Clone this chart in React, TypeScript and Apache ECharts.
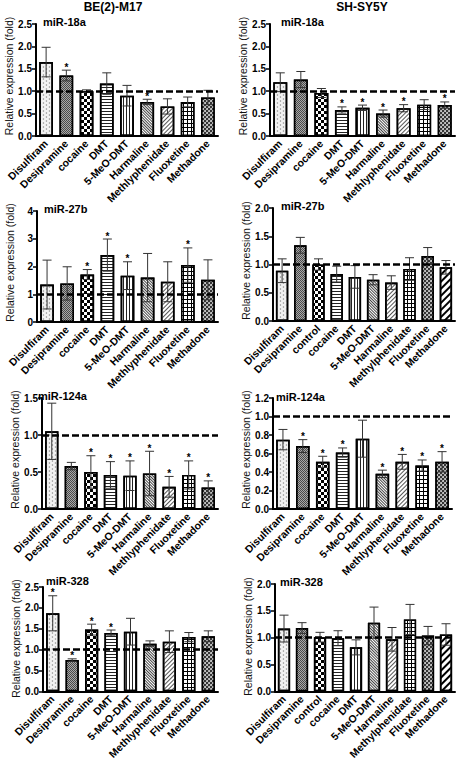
import React, { useEffect, useRef } from "react";
import * as echarts from "echarts";

// ---------- data ----------
const columnTitles = ["BE(2)-M17", "SH-SY5Y"];
const yAxisTitle = "Relative expression (fold)";
const panelTitles = ["miR-18a", "miR-18a", "miR-27b", "miR-27b", "miR-124a", "miR-124a", "miR-328", "miR-328"];

const drugsA = ["Disulfiram", "Desipramine", "cocaine", "DMT", "5-MeO-DMT", "Harmaline", "Methlyphenidate", "Fluoxetine", "Methadone"];
const drugsB = ["Disulfiram", "Desipramine", "control", "cocaine", "DMT", "5-MeO-DMT", "Harmaline", "Methylphenidate", "Fluoxetine", "Methadone"];

const be18aMean = [1.65, 1.35, 1.0, 1.17, 0.9, 0.76, 0.66, 0.76, 0.86];
const be18aErr = [0.33, 0.12, 0.03, 0.24, 0.23, 0.06, 0.17, 0.11, 0.16];
const be18aSig = [0, 1, 0, 0, 0, 1, 0, 0, 0];

const sh18aMean = [1.2, 1.26, 0.96, 0.58, 0.63, 0.5, 0.62, 0.7, 0.69];
const sh18aErr = [0.21, 0.18, 0.1, 0.07, 0.06, 0.08, 0.08, 0.11, 0.07];
const sh18aSig = [0, 0, 0, 1, 1, 1, 1, 0, 1];

const be27bMean = [1.35, 1.39, 1.71, 2.41, 1.67, 1.6, 1.45, 2.05, 1.52];
const be27bErr = [0.88, 0.6, 0.18, 0.58, 0.5, 0.87, 0.72, 0.62, 0.72];
const be27bSig = [0, 0, 1, 1, 1, 0, 0, 1, 0];

const sh27bMean = [0.89, 1.34, 1.0, 0.83, 0.78, 0.73, 0.68, 0.92, 1.15, 0.95];
const sh27bErr = [0.21, 0.14, 0.1, 0.14, 0.2, 0.09, 0.12, 0.2, 0.15, 0.12];
const sh27bSig = [0, 0, 0, 0, 0, 0, 0, 0, 0, 0];

const be124aMean = [1.05, 0.58, 0.5, 0.46, 0.45, 0.48, 0.3, 0.46, 0.29];
const be124aErr = [0.38, 0.05, 0.22, 0.18, 0.2, 0.3, 0.14, 0.19, 0.09];
const be124aSig = [0, 0, 1, 1, 1, 1, 1, 1, 1];

const sh124aMean = [0.75, 0.68, 0.51, 0.61, 0.76, 0.38, 0.51, 0.47, 0.51];
const sh124aErr = [0.11, 0.07, 0.06, 0.05, 0.2, 0.04, 0.08, 0.06, 0.11];
const sh124aSig = [0, 1, 1, 1, 0, 1, 1, 1, 1];

const be328Mean = [1.87, 0.75, 1.48, 1.4, 1.43, 1.14, 1.19, 1.3, 1.32];
const be328Err = [0.42, 0.03, 0.13, 0.07, 0.32, 0.07, 0.26, 0.11, 0.13];
const be328Sig = [1, 1, 1, 1, 0, 0, 0, 0, 0];

const sh328Mean = [1.17, 1.18, 1.01, 0.99, 0.82, 1.28, 0.97, 1.34, 1.04, 1.06];
const sh328Err = [0.25, 0.1, 0.09, 0.14, 0.14, 0.29, 0.22, 0.28, 0.17, 0.2];
const sh328Sig = [0, 0, 0, 0, 0, 0, 0, 0, 0, 0];

const yMax = [2.5, 2.5, 4, 2, 1.5, 1.2, 2.5, 2];
const yStep = [0.5, 0.5, 1, 0.5, 0.5, 0.2, 0.5, 0.5];
const yDecimals = [1, 1, 0, 1, 1, 1, 1, 1];
const refLevel = 1;

const panels = [
  { cats: drugsA, mean: be18aMean, err: be18aErr, sig: be18aSig },
  { cats: drugsA, mean: sh18aMean, err: sh18aErr, sig: sh18aSig },
  { cats: drugsA, mean: be27bMean, err: be27bErr, sig: be27bSig },
  { cats: drugsB, mean: sh27bMean, err: sh27bErr, sig: sh27bSig },
  { cats: drugsA, mean: be124aMean, err: be124aErr, sig: be124aSig },
  { cats: drugsA, mean: sh124aMean, err: sh124aErr, sig: sh124aSig },
  { cats: drugsA, mean: be328Mean, err: be328Err, sig: be328Sig },
  { cats: drugsB, mean: sh328Mean, err: sh328Err, sig: sh328Sig },
];

// ---------- layout / style ----------
const layouts = [
  { l: 36, t: 24, r: 218, b: 136, tx: 43, ty: 21.5 },
  { l: 270, t: 24, r: 455, b: 136, tx: 281, ty: 21.5 },
  { l: 37, t: 211, r: 218, b: 322, tx: 44, ty: 208.5 },
  { l: 273, t: 208, r: 455, b: 321, tx: 281, ty: 206 },
  { l: 42, t: 398, r: 218, b: 509, tx: 38, ty: 396 },
  { l: 273, t: 398, r: 452, b: 509, tx: 276, ty: 397 },
  { l: 43, t: 587, r: 218, b: 698, tx: 46, ty: 580.5 },
  { l: 275, t: 584, r: 455, b: 697, tx: 280, ty: 581.5 },
];
const FONT = "Liberation Sans, Arial, Helvetica, sans-serif";

const patterns: any[] = [
  { bg: "#f2f2f2", decal: { symbol: "circle", symbolSize: 0.7, color: "#8a8a8a", dashArrayX: [[3, 3], [0, 3, 3, 0]], dashArrayY: [2, 0] } },
  { bg: "#4a4a4a", decal: { symbol: "rect", symbolSize: 1, color: "#a8a8a8", dashArrayX: [[1, 1], [0, 1, 1, 0]], dashArrayY: [1, 0] } },
  { bg: "#ffffff", decal: { symbol: "rect", symbolSize: 1, color: "#000", dashArrayX: [[3, 3], [0, 3, 3, 0]], dashArrayY: [3, 0] } },
  { bg: "#ffffff", decal: { symbol: "rect", symbolSize: 1, color: "#222", dashArrayX: [1, 0], dashArrayY: [1, 2] } },
  { bg: "#ffffff", decal: { symbol: "rect", symbolSize: 1, color: "#222", dashArrayX: [1, 2], dashArrayY: [1, 0] } },
  { bg: "#ffffff", decal: { symbol: "rect", symbolSize: 1, color: "#444", dashArrayX: [1, 0], dashArrayY: [1, 1], rotation: Math.PI / 4 } },
  { bg: "#ffffff", decal: { symbol: "rect", symbolSize: 1, color: "#555", dashArrayX: [1, 0], dashArrayY: [1, 1.5], rotation: -Math.PI / 4 } },
  { bg: "#000000", decal: { symbol: "rect", symbolSize: 1, color: "#fff", dashArrayX: [3, 1], dashArrayY: [3, 1] } },
  { bg: "#333333", decal: { symbol: "circle", symbolSize: 0.9, color: "#e8e8e8", dashArrayX: [[2, 2], [0, 2, 2, 0]], dashArrayY: [2, 0] } },
  { bg: "#ffffff", decal: { symbol: "rect", symbolSize: 1, color: "#000", dashArrayX: [1, 0], dashArrayY: [2, 2.5], rotation: -Math.PI / 4 } },
];

export default function App() {
  const ref = useRef<HTMLDivElement>(null);
  useEffect(() => {
    document.body.style.margin = "0";
    if (!ref.current) return;
    const chart = echarts.init(ref.current, undefined, { renderer: "svg" });

    const grid: any[] = [];
    const xAxis: any[] = [];
    const yAxis: any[] = [];
    const series: any[] = [];
    const graphic: any[] = [];

    columnTitles.forEach((t, c) => {
      graphic.push({
        type: "text",
        x: c === 0 ? 113 : 362,
        y: 6.5,
        style: { text: t, font: `bold 12px ${FONT}`, fill: "#000", align: "center", verticalAlign: "middle" },
      });
    });

    panels.forEach((p, i) => {
      const L = layouts[i];
      grid.push({ left: L.l, top: L.t, width: L.r - L.l, height: L.b - L.t, containLabel: false });
      xAxis.push({
        type: "category",
        gridIndex: i,
        data: p.cats,
        axisLine: { lineStyle: { color: "#000", width: 2 } },
        axisTick: { alignWithLabel: true, length: 4, lineStyle: { color: "#000", width: 1.5 } },
        axisLabel: { interval: 0, rotate: 45, margin: 6, color: "#000", fontFamily: FONT, fontWeight: "bold", fontSize: 10.5 },
      });
      yAxis.push({
        type: "value",
        gridIndex: i,
        min: 0,
        max: yMax[i],
        interval: yStep[i],
        splitLine: { show: false },
        axisLine: { show: true, lineStyle: { color: "#000", width: 2 } },
        axisTick: { show: true, length: 4, lineStyle: { color: "#000", width: 1.5 } },
        axisLabel: {
          margin: 4,
          color: "#000",
          fontFamily: FONT,
          fontWeight: "bold",
          fontSize: 10,
          formatter: (v: number) => v.toFixed(yDecimals[i]),
        },
      });
      series.push({
        type: "bar",
        xAxisIndex: i,
        yAxisIndex: i,
        barCategoryGap: "32%",
        data: p.mean.map((v, j) => ({
          value: v,
          itemStyle: { color: patterns[j].bg, decal: patterns[j].decal, borderColor: "#000", borderWidth: 1.6 },
        })),
        markLine: {
          silent: true,
          symbol: ["none", "none"],
          label: { show: false },
          lineStyle: { color: "#000", type: [7, 3], width: 2.5 },
          data: [{ yAxis: refLevel }],
          z: 5,
        },
      });
      series.push({
        type: "custom",
        xAxisIndex: i,
        yAxisIndex: i,
        z: 4,
        data: p.mean.map((v, j) => [j, v, p.err[j], p.sig[j]]),
        encode: { x: 0, y: 1 },
        renderItem: (params: any, api: any) => {
          const x = api.value(0);
          const m = api.value(1);
          const e = api.value(2);
          const s = api.value(3);
          const top = api.coord([x, m + e]);
          const bot = api.coord([x, m - e]);
          const hw = 4.5;
          const st = { stroke: "#333", lineWidth: 1 };
          const children: any[] = [
            { type: "line", shape: { x1: top[0], y1: top[1], x2: bot[0], y2: bot[1] }, style: st },
            { type: "line", shape: { x1: top[0] - hw, y1: top[1], x2: top[0] + hw, y2: top[1] }, style: st },
            { type: "line", shape: { x1: bot[0] - hw, y1: bot[1], x2: bot[0] + hw, y2: bot[1] }, style: st },
          ];
          if (s) {
            children.push({
              type: "text",
              x: top[0],
              y: top[1] - 3,
              style: { text: "*", font: `bold 10px ${FONT}`, fill: "#000", align: "center", verticalAlign: "middle" },
            });
          }
          return { type: "group", children };
        },
      });
      graphic.push({
        type: "text",
        x: L.tx,
        y: L.ty,
        style: { text: panelTitles[i], font: `bold 11px ${FONT}`, fill: "#000", align: "left", verticalAlign: "middle" },
      });
      graphic.push({
        type: "text",
        x: L.l - 27,
        y: (L.t + L.b) / 2 - 4,
        rotation: Math.PI / 2,
        style: { text: yAxisTitle, font: `10.5px ${FONT}`, fill: "#111", align: "center", verticalAlign: "middle" },
      });
    });

    chart.setOption({
      animation: false,
      backgroundColor: "#fff",
      grid,
      xAxis,
      yAxis,
      series,
      graphic,
    });
    return () => chart.dispose();
  }, []);
  return <div ref={ref} style={{ width: 456, height: 762 }} />;
}
